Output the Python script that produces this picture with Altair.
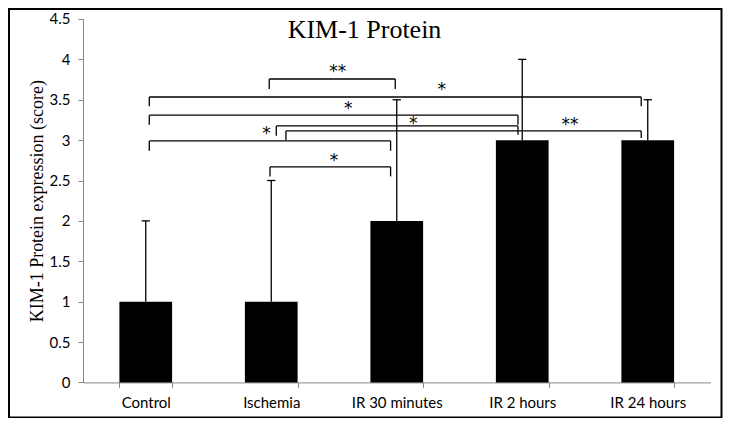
import altair as alt
import pandas as pd

# ---------------- data ----------------
categories = ["Control", "Ischemia", "IR 30 minutes", "IR 2 hours", "IR 24 hours"]
means = [1, 1, 2, 3, 3]
upper_err = [1, 1.5, 1.5, 1, 0.5]

# significance brackets (x in category-index units, y in score units)
br_left = [0.984, 0.028, 0.028, 1.04, 1.117, 0.028, 0.99]
br_right = [1.988, 3.948, 2.966, 2.966, 3.948, 1.951, 1.951]
br_level = [3.757, 3.534, 3.309, 3.176, 3.114, 2.990, 2.668]
br_left_end = [3.633, 3.42, 3.191, 3.055, 2.997, 2.869, 2.551]
br_right_end = [3.633, 3.42, 3.191, 3.067, 3.026, 2.869, 2.551]
br_text = ["**", "*", "*", "*", "**", "*", "*"]
br_text_x = [1.529, 2.358, 1.614, 2.131, 3.380, 0.963, 1.5]
br_text_y = [3.884, 3.658, 3.43, 3.24, 3.232, 3.116, 2.79]

y_ticks = [0, 0.5, 1, 1.5, 2, 2.5, 3, 3.5, 4, 4.5]
chart_title = ["KIM-1 Protein"]

# ---------------- tables ----------------
bars = pd.DataFrame({"group": categories, "y": means,
                     "pos": list(range(len(categories))),
                     "top": [m + e for m, e in zip(means, upper_err)]})
bars["capl"] = bars["pos"] - 0.033
bars["capr"] = bars["pos"] + 0.033

brk = pd.DataFrame({"x1": br_left, "x2": br_right, "y": br_level,
                    "yl": br_left_end, "yr": br_right_end})
lab = pd.DataFrame({"x": br_text_x, "y": br_text_y, "t": br_text})

W, H = 627.5, 363.4
PAD = {"left": 75, "top": 11, "right": 12, "bottom": 36}
GRAY = "#868686"
SANS = "Lato"
SERIF = "Liberation Serif"

yscale = alt.Scale(domain=[0, 4.5], nice=False, zero=True)
yaxis = alt.Axis(values=y_ticks, format="~g", grid=False, domainColor=GRAY,
                 tickColor=GRAY, tickSize=5, labelFont=SANS, labelFontSize=15,
                 labelColor="black", labelPadding=8,
                 title="KIM-1 Protein  expression (score)", titleFont=SERIF,
                 titleFontSize=18, titleFontWeight="normal", titleColor="black",
                 titlePadding=3)
qx = alt.Scale(domain=[-0.5, 4.5], nice=False, zero=False)

bar_layer = alt.Chart(bars).mark_bar(color="black").encode(
    x=alt.X("group:N", sort=categories,
            scale=alt.Scale(paddingInner=0.58, paddingOuter=0.29),
            axis=alt.Axis(title=None, labelAngle=0, tickBand="extent",
                          domainColor=GRAY, tickColor=GRAY, tickSize=5,
                          labelFont=SANS, labelFontSize=15, labelColor="black",
                          labelPadding=8)),
    y=alt.Y("y:Q", scale=yscale, axis=yaxis),
)

err_line = alt.Chart(bars).mark_rule(color="black", strokeWidth=1.3).encode(
    x=alt.X("pos:Q", scale=qx, axis=None),
    y=alt.Y("y:Q", scale=yscale, axis=yaxis),
    y2="top:Q",
)
err_cap = alt.Chart(bars).mark_rule(color="black", strokeWidth=1.3).encode(
    x=alt.X("capl:Q", scale=qx, axis=None),
    x2="capr:Q",
    y=alt.Y("top:Q", scale=yscale, axis=yaxis),
)

br_h = alt.Chart(brk).mark_rule(color="black", strokeWidth=1.3).encode(
    x=alt.X("x1:Q", scale=qx, axis=None), x2="x2:Q",
    y=alt.Y("y:Q", scale=yscale, axis=yaxis))
br_l = alt.Chart(brk).mark_rule(color="black", strokeWidth=1.3).encode(
    x=alt.X("x1:Q", scale=qx, axis=None),
    y=alt.Y("y:Q", scale=yscale, axis=yaxis), y2="yl:Q")
br_r = alt.Chart(brk).mark_rule(color="black", strokeWidth=1.3).encode(
    x=alt.X("x2:Q", scale=qx, axis=None),
    y=alt.Y("y:Q", scale=yscale, axis=yaxis), y2="yr:Q")
br_t = alt.Chart(lab).mark_text(font="DejaVu Sans", fontSize=17, color="black",
                                baseline="middle", dy=3.5).encode(
    x=alt.X("x:Q", scale=qx, axis=None),
    y=alt.Y("y:Q", scale=yscale, axis=yaxis),
    text="t:N")

title_layer = alt.Chart(pd.DataFrame({"t": chart_title})).mark_text(
    font=SERIF, fontSize=26, color="black", baseline="alphabetic",
    align="center").encode(
    x=alt.value(281.5), y=alt.value(19.5), text="t:N")

frame = alt.Chart(pd.DataFrame({"a": [0]})).mark_rect(
    filled=False, stroke="black", strokeWidth=2).encode(
    x=alt.value(-PAD["left"] + 1), x2=alt.value(W + PAD["right"] - 1),
    y=alt.value(-PAD["top"] + 1), y2=alt.value(H + PAD["bottom"] - 1))

chart = alt.layer(bar_layer, err_line, err_cap, br_h, br_l, br_r, br_t,
                  title_layer, frame).resolve_scale(
    x="independent"
).properties(
    width=W, height=H,
    autosize=alt.AutoSizeParams(type="none"),
    padding=PAD,
).configure_view(stroke=None)

chart.save("out.html", embed_options={"renderer": "svg", "actions": False})
